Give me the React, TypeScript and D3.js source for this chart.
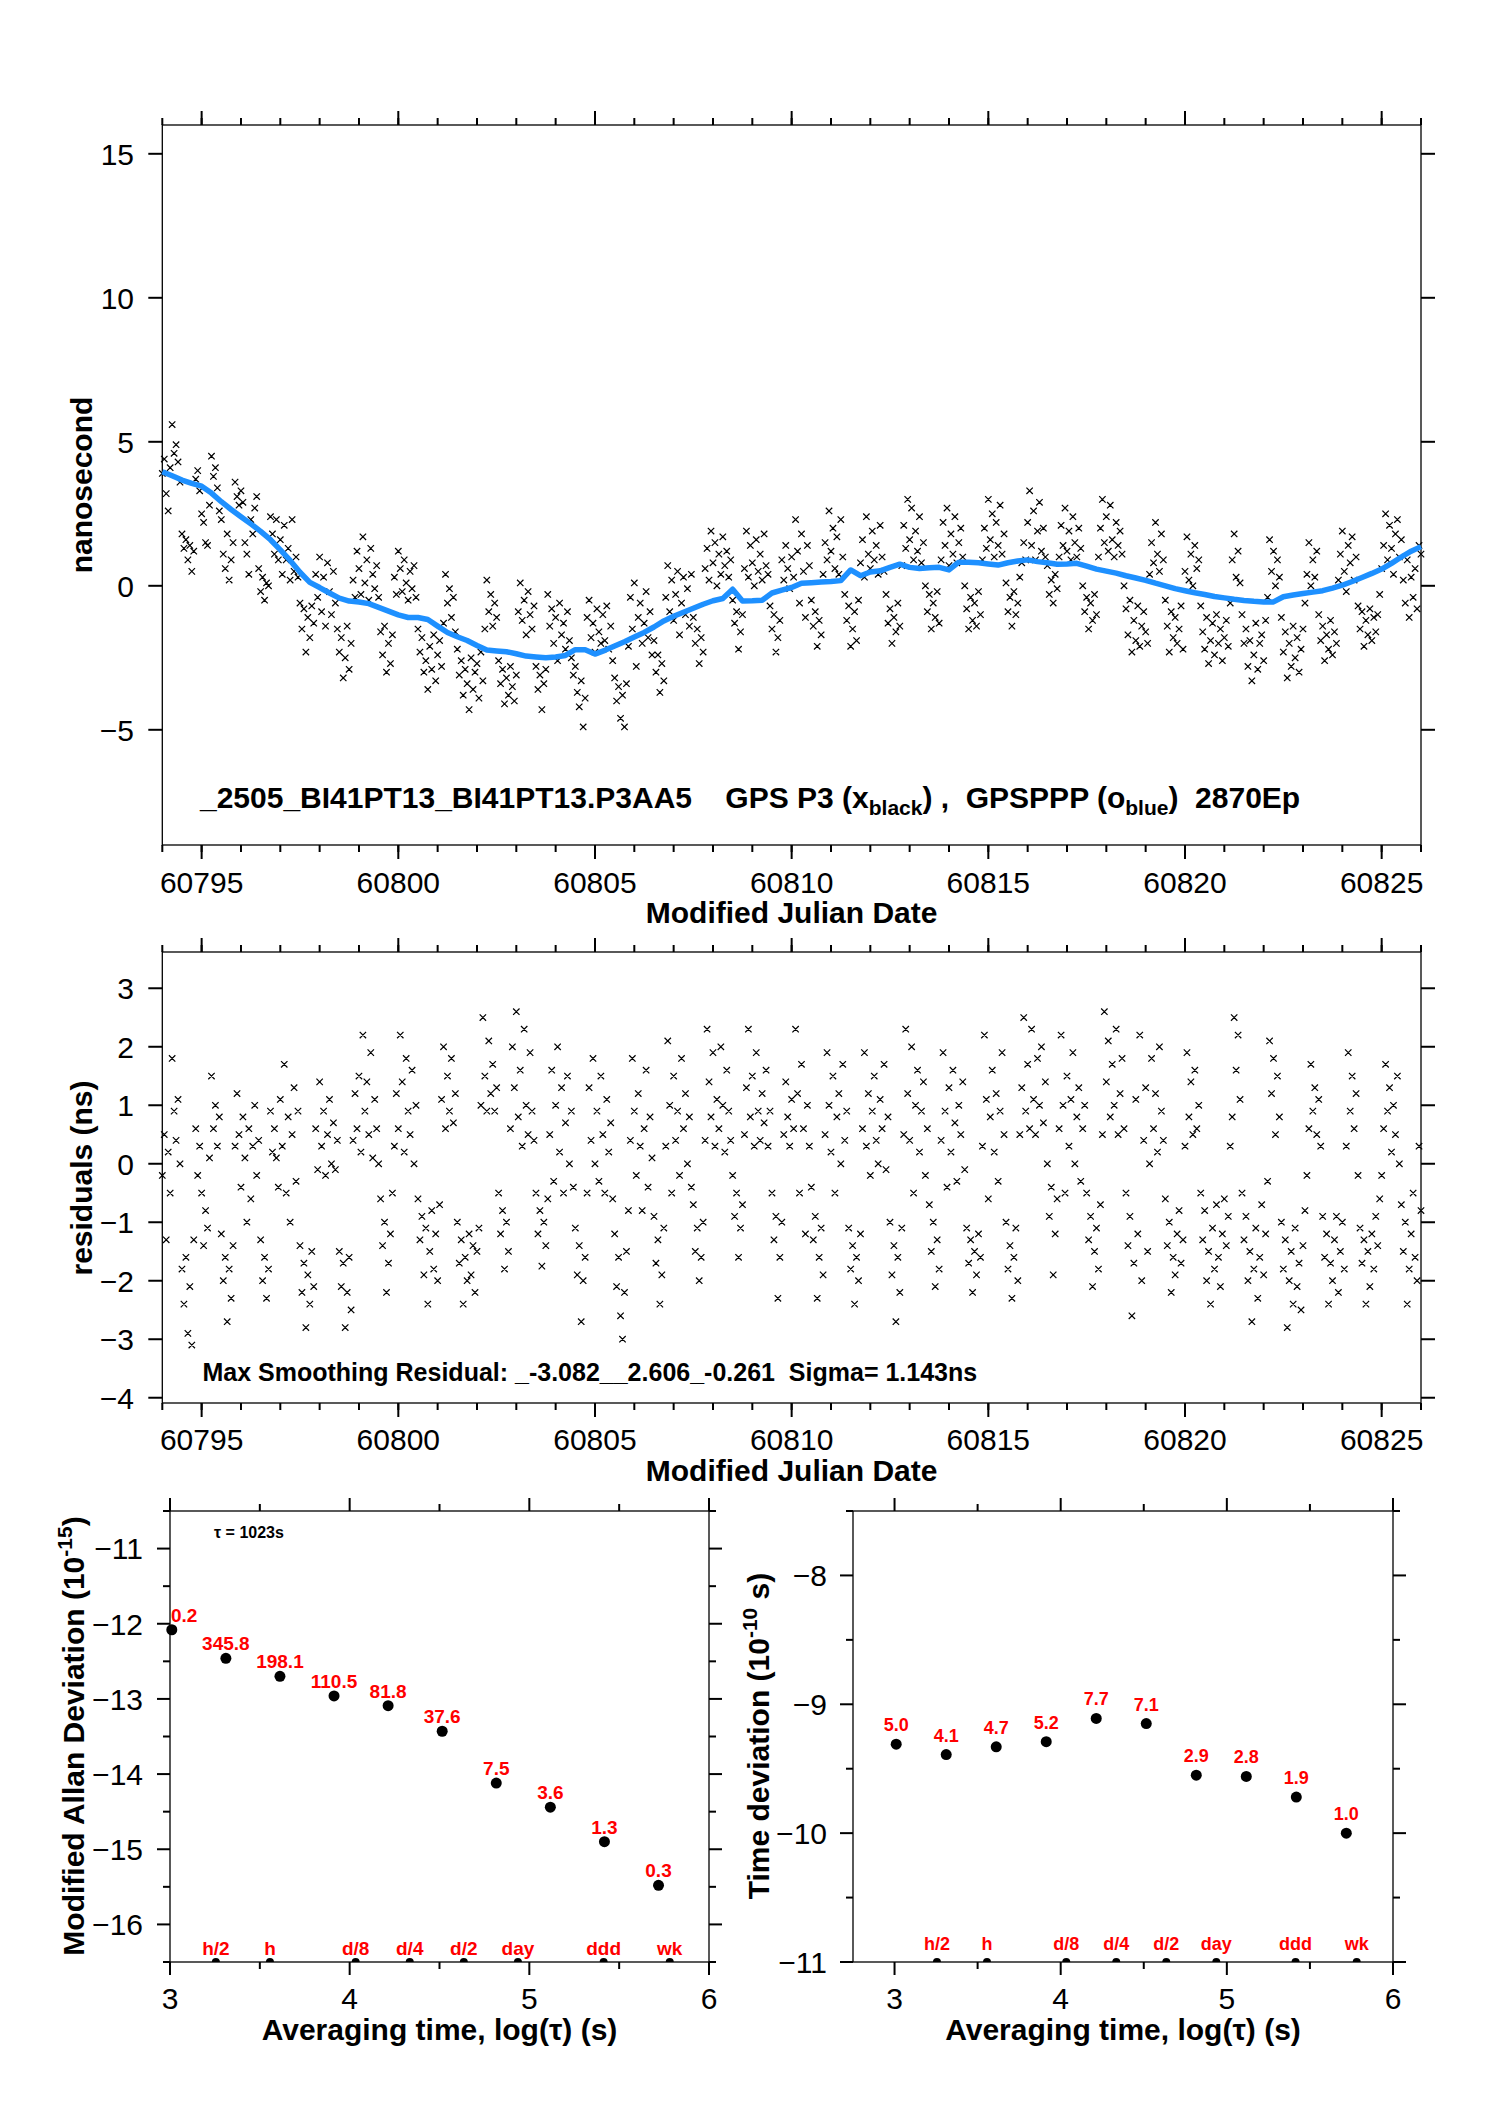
import * as d3 from "d3";

// ---- data ----
const MJD_START = 60794;
const STEP = 0.05; // days between epochs (read at this cadence)
const SMOOTH_STEP = 0.25;

// GPS P3 clock offsets (ns), one row per day
const p3Offsets = [
  3.9, 4.4, 3.2, 2.6, 4.1, 5.6, 4.6, 4.9, 4.3, 3.6, 1.8, 1.3, 1.6, 0.9, 1.4, 0.5, 1.2, 3.7, 4.0, 3.3,
  2.5, 2.2, 1.5, 1.4, 2.8, 4.5, 3.8, 4.1, 3.4, 2.6, 2.3, 1.1, 0.6, 1.8, 0.2, 0.9, 1.5, 3.6, 3.1, 2.8,
  3.3, 2.9, 1.5, 1.1, 0.4, 2.3, 1.8, 2.7, 3.1, 0.6, -0.2, 0.3, -0.5, 0.1, 0.0, 2.4, 1.8, 1.1, 2.3, 0.9,
  1.6, 0.4, 2.1, 0.9, 1.3, 0.2, 2.3, 0.5, 1.0, 0.3, -0.6, -1.5, -0.8, -2.3, -1.1, -1.8, -0.7, -1.3, 0.4, -0.4,
  1.0, -0.9, 0.3, -1.4, 0.8, -0.2, -1.0, 0.5, -0.6, -1.5, -2.3, -1.8, -3.2, -2.5, -1.4, -2.9, -2.0, 0.2, -0.4, 1.2,
  0.6, -0.3, 1.7, 0.1, 0.9, -0.5, 1.3, 0.4, -0.1, 0.7, -0.4, -1.6, -2.4, -1.4, -3.0, -2.0, -2.7, -1.7, 0.3, -0.3,
  1.2, 0.6, -0.2, 0.9, 0.1, -0.5, 0.5, -0.1, 0.7, -0.4, -1.5, -2.3, -1.8, -3.0, -2.6, -3.6, -2.1, -2.9, -1.7, -3.3,
  -2.4, -1.9, -2.8, -1.3, 0.4, -0.6, -0.1, -1.1, -0.4, -1.6, -2.2, -3.1, -2.6, -3.8, -2.9, -3.4, -4.3, -2.5, -3.6, -3.0,
  -2.7, -3.9, -2.3, -3.3, -1.5, 0.2, -0.9, -0.3, -1.4, -0.6, -1.1, -2.6, -3.4, -2.9, -4.1, -3.2, -3.8, -2.8, -3.5, -4.0,
  -3.1, -0.9, 0.1, -1.2, -0.5, -1.7, -0.2, -1.0, -1.5, -0.7, -2.8, -3.6, -3.1, -4.3, -3.4, -2.9, -0.3, -1.4, -0.8, -2.0,
  -1.1, -2.6, -0.6, -1.7, -1.3, -2.2, -0.9, -1.9, -2.5, -3.1, -2.8, -3.7, -4.2, -3.3, -4.9, -3.9, -1.1, -0.5, -1.8, -1.3,
  -2.3, -0.8, -1.6, -2.0, -1.0, -1.9, -0.7, -2.2, -1.4, -2.6, -3.2, -4.0, -3.5, -4.6, -3.8, -4.9, -3.4, -2.1, -0.4, -1.5,
  0.1, -2.8, -1.1, -0.6, -2.0, -1.3, -0.2, -1.8, -0.9, -2.4, -1.9, -3.0, -2.4, -3.7, -2.7, -3.3, -0.4, 0.7, -0.9, 0.2,
  -1.2, -0.3, 0.5, -1.7, -0.6, 0.3, -1.0, -0.1, -1.4, 0.4, -1.1, -2.0, -1.5, -2.7, -1.8, -2.3, 0.6, 1.3, 0.2, 1.9,
  0.8, 1.5, 0.0, 1.1, 0.4, 1.7, 0.7, 1.2, 0.3, 0.9, -0.5, -1.3, -0.9, -2.2, -1.6, -1.0, 0.6, 1.9, 0.3, 1.4,
  0.8, 0.0, 1.6, 0.5, 1.1, 0.2, 1.8, 0.7, 0.4, -0.7, -1.5, -1.0, -2.3, -1.8, -1.2, 0.9, 0.2, 1.4, 0.6, -0.1,
  1.0, 0.3, 2.3, 1.2, -0.6, 1.8, 0.5, -1.1, 1.4, 0.7, -0.5, -1.4, -0.9, -2.1, -1.2, -1.7, 0.4, 1.5, 0.9, 2.6,
  1.2, 2.0, 0.6, 1.7, 0.4, 2.3, 1.0, -0.3, -1.2, -0.7, -2.1, -1.5, -0.9, -1.9, -0.5, 0.8, 1.6, 0.3, 2.4, 1.1,
  0.6, 1.9, 0.9, 1.4, 0.4, 2.1, 1.0, 0.5, -0.3, -1.3, -0.8, -2.0, -1.1, -1.6, -0.6, -1.4, 0.7, 2.1, 1.3, 3.0,
  1.6, 2.7, 0.9, 1.9, 1.2, 2.4, 0.8, 1.5, 0.0, -0.9, -0.3, -1.5, -0.6, -1.1, -0.2, -1.3, 0.9, 2.2, 1.4, 2.7,
  0.7, 1.8, 1.1, 2.4, 0.8, 1.5, 2.0, 1.0, 0.0, -0.8, -1.5, -0.4, -1.2, -0.6, -1.4, -0.2, -1.0, 0.9, 2.0, 1.3,
  3.0, 1.6, 2.5, 1.0, 2.2, 1.4, 2.8, 1.1, 1.8, 0.1, -0.9, -0.4, -1.4, -0.2, -1.0, -0.6, 0.3, 0.8, 1.5, 0.9,
  2.2, 3.3, 1.4, 2.6, 0.9, 1.9, 2.9, 1.2, 2.0, 1.0, 0.7, -0.3, 0.2, -0.6, 0.4, -0.1, 1.0, 2.1, 1.4, 2.7,
  1.2, 1.9, 0.9, 2.4, 1.5, 1.0, 2.0, 1.3, 0.0, -0.9, -0.4, -1.5, -0.6, -1.2, -0.3, -1.0, 1.0, 2.0, 3.0, 1.5,
  2.4, 1.2, 2.8, 1.6, 1.0, 2.2, 1.4, 1.9, 1.1, 0.0, -0.8, -1.7, -0.5, -2.3, -1.2, -1.9, -0.7, -2.1, -1.4, -0.9,
  -1.6, -2.0, 0.4, 1.5, 0.8, 2.2, 1.1, 0.5, 1.8, 0.9, -0.5, -1.4, -2.3, -0.9, -1.8, -1.1, -2.0, -1.5, -0.7, -2.2,
  0.5, 1.7, 0.2, 1.1, 0.0, 1.4, 0.6, 0.9, -0.7, -1.6, -2.2, -1.1, -2.7, -1.9, -1.3, -2.4, -1.0, -2.0, -1.5, -2.6,
  -1.8, -1.2, -2.1, -0.6, 0.9, 1.8, 0.3, 1.2, 0.1, -1.0, -2.0, -1.5, -2.8, -1.9, -3.3, -2.4, -1.3, -2.9, -2.0, -1.7,
  -2.6, -1.2, -0.4, 1.6, 0.5, 1.2, 0.0, 0.9, 0.3, -1.1, -2.3, -1.6, -3.2, -2.0, -2.8, -1.4, -2.5, -1.8, -3.0, -2.2,
  -1.5, -0.6, 0.4, 1.5, 0.0, 0.9, 0.3, 1.2, -1.0, -1.9, -1.4, -2.6, -1.7, -2.2, -1.2, -2.4, -1.6, -2.0, 0.2, 1.1,
  1.9, 0.5, -0.2, 1.4, 0.8, 1.7, 0.2, 1.0, -0.7, -1.5, -0.9, -2.1, -1.2, -1.7, -0.8, -1.9, -1.1, -1.6, -1.0, -0.3,
  0.6, 1.4, 2.5, 0.9, 2.1, 1.3, 0.4, 1.8, 2.3, 1.0, 1.6, 0.2, -0.6, 0.9, -1.1, 0.3, -0.4, 0.6, -0.8, 1.4,
  1.1,
];

// GPSPPP smoothed curve (ns), every 0.25 day
const pppSmoothed = [
  3.96, 3.82, 3.67, 3.56, 3.46, 3.22, 2.92, 2.65, 2.4, 2.15, 1.89, 1.6, 1.25, 0.88, 0.47, 0.12,
  -0.06, -0.25, -0.43, -0.53, -0.56, -0.62, -0.75, -0.88, -1.01, -1.1, -1.1, -1.17, -1.4, -1.62, -1.77, -1.9,
  -2.07, -2.23, -2.26, -2.29, -2.36, -2.44, -2.47, -2.5, -2.47, -2.42, -2.22, -2.22, -2.37, -2.24, -2.09, -1.94,
  -1.78, -1.62, -1.43, -1.22, -1.06, -0.92, -0.78, -0.64, -0.52, -0.44, -0.12, -0.53, -0.52, -0.5, -0.25, -0.15,
  -0.06, 0.09, 0.11, 0.13, 0.15, 0.18, 0.55, 0.35, 0.48, 0.52, 0.64, 0.75, 0.64, 0.6, 0.63, 0.64,
  0.55, 0.82, 0.82, 0.8, 0.76, 0.72, 0.8, 0.86, 0.9, 0.84, 0.8, 0.75, 0.76, 0.78, 0.68, 0.58,
  0.51, 0.44, 0.35, 0.27, 0.19, 0.09, 0.0, -0.1, -0.17, -0.24, -0.3, -0.37, -0.42, -0.47, -0.51, -0.54,
  -0.56, -0.56, -0.38, -0.32, -0.27, -0.22, -0.17, -0.08, 0.02, 0.15, 0.29, 0.43, 0.58, 0.78, 1.0, 1.2,
  1.36,
];

// smoothing residuals (ns), one row per day
const residuals = [
  -0.2, 0.5, -1.3, 0.2, -0.5, 1.8, 0.9, 0.4, 1.1, 0.0, -1.8, -2.4, -1.6, -2.9, -2.1, -3.1, -1.3, 0.6, -0.2, 0.3,
  -0.5, -1.4, -0.8, -1.1, 0.1, 1.5, 0.6, 1.0, 0.3, 0.8, -1.2, -2.0, -1.6, -2.7, -1.8, -2.3, -1.4, 0.3, 1.2, 0.5,
  -0.4, 0.8, 0.1, -1.0, 0.6, -0.6, 0.3, 1.0, -0.2, 0.4, -1.3, -2.0, -1.6, -2.3, -1.8, 0.9, 0.2, 0.6, 0.1, -0.4,
  1.1, 0.3, 1.7, -0.5, 0.8, -1.0, 0.5, 1.3, -0.3, 0.9, -1.4, -2.2, -1.7, -2.8, -1.9, -2.4, -1.5, -2.1, 0.6, -0.1,
  1.4, 0.3, 0.9, -0.2, 0.5, 1.1, 0.0, 0.7, -0.1, 0.4, -1.5, -2.1, -1.7, -2.8, -2.2, -1.6, -2.5, 0.4, 1.2, 0.6,
  1.5, 0.2, 2.2, 0.9, 1.4, 0.5, 1.9, 0.1, 1.1, 0.6, 0.0, -0.6, -1.4, -1.0, -2.2, -1.7, -1.2, -0.5, 0.3, 1.2,
  0.6, 2.2, 1.4, 0.2, 1.8, 0.9, 0.5, 1.6, 0.0, 1.0, -0.6, -1.3, -0.9, -1.9, -1.1, -2.4, -1.5, -0.8, -1.8, -1.2,
  -2.0, -0.7, 1.1, 2.0, 0.6, 1.5, 0.9, 1.8, 0.7, 1.2, -1.0, -1.7, -1.3, -2.4, -1.6, -2.0, -1.2, -1.9, -1.4, -2.2,
  -1.5, -1.1, 1.0, 2.5, 1.5, 0.9, 2.1, 1.2, 1.7, 0.9, 1.3, -0.5, -1.2, -0.8, -1.8, -1.0, -1.5, 0.6, 2.0, 1.3,
  2.6, 0.8, 1.6, 0.3, 2.3, 1.0, 0.5, 1.9, 0.9, 0.4, -0.5, -1.2, -0.8, -1.75, -1.0, -1.4, -0.6, 0.5, 1.6, -0.3,
  1.0, 2.0, 0.2, 1.3, -0.5, 0.7, 1.5, 0.0, 0.9, -0.4, -1.1, -1.9, -1.4, -2.7, -2.0, -1.6, -0.5, 1.3, 0.4, 1.8,
  0.0, 0.9, -0.3, 1.5, 0.5, -0.5, 1.1, 0.2, 0.7, -0.6, -1.2, -2.1, -1.6, -2.6, -3.0, -2.2, -1.5, -0.8, 0.4, 1.8,
  0.9, -0.2, 1.2, 0.3, -0.8, 0.6, 1.6, -0.4, 0.8, 0.1, -0.9, -1.7, -1.3, -2.4, -1.9, -1.1, 0.3, 2.1, 1.0, -0.5,
  1.5, 0.4, 0.9, -0.2, 1.8, 0.6, 1.2, 0.0, 0.8, -0.4, -0.7, -1.5, -1.1, -2.0, -1.6, -1.0, 0.4, 2.3, 1.4, 0.8,
  1.9, 0.3, 1.1, 0.6, 2.0, 1.0, 0.2, 1.6, 0.9, 0.4, -0.2, -0.9, -0.5, -1.6, -1.1, -0.7, 0.5, 1.3, 2.3, 0.8,
  1.5, 0.3, 1.9, 0.9, 0.4, 1.2, 0.7, 1.6, 0.3, 0.9, -0.5, -1.3, -0.9, -2.3, -1.6, -1.0, 0.5, 1.4, 0.8, 0.3,
  1.1, 0.6, 2.3, 1.2, -0.5, 1.7, 0.6, -1.2, 1.0, 0.3, -0.4, -1.3, -0.9, -2.3, -1.6, -1.1, -1.9, 0.5, 1.9, 1.0,
  0.2, 1.5, -0.5, 0.8, 1.2, 0.0, 1.7, 0.4, 0.9, -1.1, -1.8, -1.4, -2.4, -1.6, -2.0, -1.2, 0.6, 1.9, 0.3, 1.2,
  -0.2, 0.9, 1.5, 0.4, 0.0, 1.1, 0.6, 1.7, -0.1, 0.8, -1.0, -1.9, -1.4, -2.7, -1.6, -2.2, -1.1, 0.5, 2.3, 1.2,
  0.4, 2.0, -0.5, 1.0, 1.6, 0.2, 0.9, 1.4, -0.2, 0.6, -0.7, -1.5, -1.0, -2.1, -1.3, -1.8, 0.4, 1.9, 0.9, -0.4,
  1.3, 0.2, 1.6, 0.7, -0.3, 1.0, 0.5, 1.4, -0.1, -1.1, -1.7, -1.3, -2.2, -1.5, -1.9, -1.2, -1.6, 0.3, 2.2, 1.1,
  -0.6, 0.8, 1.6, 0.2, 1.2, -0.3, 0.9, 1.9, 0.5, -1.0, -1.8, -1.4, -2.3, -1.6, -1.1, -2.0, 0.5, 1.3, 2.5, 0.9,
  1.7, 0.6, 2.3, 1.1, 0.5, 1.8, 1.0, 2.0, 0.7, 1.4, 0.0, -0.9, -0.4, -1.9, -1.2, -0.6, 0.6, 2.2, 1.0, -0.5,
  1.5, 0.3, 1.1, 1.9, 0.0, 0.8, 1.3, -0.3, 0.6, 1.0, -0.5, -1.3, -0.9, -2.1, -1.5, -1.1, -1.8, -0.7, 0.5, 2.6,
  1.4, 2.1, 0.8, 1.7, 1.0, 2.3, 0.5, 1.2, 1.8, 0.6, -0.5, -1.4, -0.9, -2.6, -1.7, 1.1, -1.2, 2.2, -2.0, 0.4,
  1.3, -1.5, 0.0, 1.8, 0.6, 1.2, 0.2, 2.0, 0.9, 0.4, -0.6, -1.4, -1.0, -2.2, -1.6, -1.9, -1.2, -0.8, -1.7, -1.3,
  0.3, 1.9, 0.8, 1.4, 0.5, 1.6, 0.6, 1.0, -0.5, -1.3, -0.8, -2.0, -1.5, -2.4, -1.1, -1.8, -0.7, -1.6, -2.1, -1.2,
  -0.6, -1.4, -0.9, 0.3, 0.8, 2.5, 1.6, 2.2, 1.1, -0.5, -1.3, -0.9, -2.0, -1.5, -2.7, -1.8, -1.1, -2.3, -1.6, -0.7,
  -1.9, -1.2, -0.3, 2.1, 1.2, 1.8, 0.5, 1.5, 0.8, -1.0, -1.8, -1.3, -2.8, -2.0, -1.5, -2.4, -1.1, -2.1, -1.7, -2.5,
  -1.4, -0.8, -0.2, 0.6, 1.7, 0.9, 1.3, 0.5, 1.1, 0.3, -0.9, -1.6, -1.2, -2.4, -1.7, -2.0, -1.3, -0.9, -2.2, -1.5,
  -1.0, -1.8, 0.3, 1.9, 0.9, 1.5, 0.6, 1.2, -0.2, -1.1, -1.7, -1.3, -2.4, -1.5, -2.1, -1.2, -1.8, -0.9, -1.4, -0.6,
  -0.2, 0.6, 1.7, 0.9, 1.3, 0.2, 1.0, 0.5, 1.5, 0.0, -0.7, -1.5, -1.0, -2.4, -1.8, -1.2, -0.5, -1.6, -2.0, 0.3,
  -0.8,
];

// stability: log10(tau) of each averaging time, values, N labels
const logTau = [3.01, 3.311, 3.612, 3.913, 4.214, 4.515, 4.816, 5.117, 5.418, 5.719];
const mdevLog = [-12.08, -12.46, -12.7, -12.96, -13.09, -13.43, -14.12, -14.44, -14.9, -15.48];
const mdevLabels = ["0.2", "345.8", "198.1", "110.5", "81.8", "37.6", "7.5", "3.6", "1.3", "0.3"];
const tdevLog = [-9.31, -9.39, -9.33, -9.29, -9.11, -9.15, -9.55, -9.56, -9.72, -10.0];
const tdevLabels = ["5.0", "4.1", "4.7", "5.2", "7.7", "7.1", "2.9", "2.8", "1.9", "1.0"];

const periodNames = ["h/2", "h", "d/8", "d/4", "d/2", "day", "ddd", "wk"];
const periodSeconds = [1800, 3600, 10800, 21600, 43200, 86400, 259200, 604800];

const mjdMajor = [60795, 60800, 60805, 60810, 60815, 60820, 60825];
const mjdMinor = d3.range(60794, 60827);

// ---- drawing ----
const FONT = "'Liberation Sans', Arial, Helvetica, sans-serif";
const RED = "#ff0000";
const BLUE = "#1e90ff";

const fmt = (v: number) => (v < 0 ? "\u2212" + Math.abs(v) : String(v));

type Scale = d3.ScaleLinear<number, number>;

function Frame(props: {
  x: Scale;
  y: Scale;
  xMajor: number[];
  xMinor: number[];
  yMajor: number[];
  yMinor: number[];
  xLabelY: number;
  yLabelX: number;
  major: number;
  minor: number;
}) {
  const { x, y, major, minor } = props;
  const [left, right] = x.range();
  const [bottom, top] = y.range();
  const tick = { stroke: "#000", strokeWidth: 2 };
  return (
    <g>
      <rect x={left} y={top} width={right - left} height={bottom - top} fill="none" stroke="#000" strokeWidth={1.3} />
      {props.xMinor.map((v, i) => (
        <g key={"xm" + i} {...tick}>
          <line x1={x(v)} x2={x(v)} y1={bottom} y2={bottom + minor} />
          <line x1={x(v)} x2={x(v)} y1={top} y2={top - minor} />
        </g>
      ))}
      {props.yMinor.map((v, i) => (
        <g key={"ym" + i} {...tick}>
          <line x1={left} x2={left - minor} y1={y(v)} y2={y(v)} />
          <line x1={right} x2={right + minor} y1={y(v)} y2={y(v)} />
        </g>
      ))}
      {props.xMajor.map((v, i) => (
        <g key={"xM" + i}>
          <line x1={x(v)} x2={x(v)} y1={bottom} y2={bottom + major} {...tick} />
          <line x1={x(v)} x2={x(v)} y1={top} y2={top - major} {...tick} />
          <text x={x(v)} y={props.xLabelY} textAnchor="middle" fontSize={30}>
            {fmt(v)}
          </text>
        </g>
      ))}
      {props.yMajor.map((v, i) => (
        <g key={"yM" + i}>
          <line x1={left} x2={left - major} y1={y(v)} y2={y(v)} {...tick} />
          <line x1={right} x2={right + major} y1={y(v)} y2={y(v)} {...tick} />
          <text x={props.yLabelX} y={y(v)} dy="0.36em" textAnchor="end" fontSize={30}>
            {fmt(v)}
          </text>
        </g>
      ))}
    </g>
  );
}

function crosses(values: number[], x: Scale, y: Scale) {
  const s = 3.2;
  return values
    .map((v, i) => {
      const px = x(MJD_START + i * STEP);
      const py = y(v);
      return `M${px - s},${py - s}L${px + s},${py + s}M${px - s},${py + s}L${px + s},${py - s}`;
    })
    .join("");
}

function StabilityPanel(props: {
  id: string;
  x: Scale;
  y: Scale;
  values: number[];
  labels: string[];
  yMajor: number[];
  yMinor: number[];
  yLabelX: number;
  labelSize: number;
  labelGap: number;
}) {
  const { x, y } = props;
  const [left, right] = x.range();
  const [bottom, top] = y.range();
  return (
    <g>
      <defs>
        <clipPath id={props.id}>
          <rect x={left} y={top} width={right - left} height={bottom - top} />
        </clipPath>
      </defs>
      <Frame
        x={x}
        y={y}
        xMajor={[3, 4, 5, 6]}
        xMinor={[3.5, 4.5, 5.5]}
        yMajor={props.yMajor}
        yMinor={props.yMinor}
        xLabelY={2009}
        yLabelX={props.yLabelX}
        major={13}
        minor={7}
      />
      {logTau.map((t, i) => {
        const cx = x(t);
        const cy = y(props.values[i]);
        const half = (props.labels[i].length * 0.5 * props.labelSize) / 2;
        const clamp = cx - half < left;
        return (
          <g key={i}>
            <circle cx={cx} cy={cy} r={5.5} fill="#000" />
            <text
              x={clamp ? left + 1 : cx}
              y={cy - props.labelGap}
              textAnchor={clamp ? "start" : "middle"}
              fill={RED}
              fontWeight="bold"
              fontSize={props.labelSize}
            >
              {props.labels[i]}
            </text>
          </g>
        );
      })}
      <g clipPath={`url(#${props.id})`}>
        {periodSeconds.map((s, i) => (
          <circle key={i} cx={x(Math.log10(s))} cy={bottom} r={4} fill="#000" />
        ))}
      </g>
      {periodSeconds.map((s, i) => (
        <text
          key={i}
          x={x(Math.log10(s))}
          y={bottom - props.labelGap + 1}
          textAnchor="middle"
          fill={RED}
          fontWeight="bold"
          fontSize={props.labelSize}
        >
          {periodNames[i]}
        </text>
      ))}
      <text x={(left + right) / 2} y={2040} textAnchor="middle" fontSize={30} fontWeight="bold">
        Averaging time, log(τ) (s)
      </text>
    </g>
  );
}

export default function App() {
  const xTime = d3.scaleLinear().domain([60794, 60826]).range([162.3, 1421]);
  const yTop = d3.scaleLinear().domain([-9, 16]).range([845, 125]);
  const yRes = d3.scaleLinear().domain([-4.09, 3.62]).range([1403, 952]);
  const xMdev = d3.scaleLinear().domain([3, 6]).range([170, 709]);
  const yMdev = d3.scaleLinear().domain([-16.5, -10.5]).range([1962, 1511]);
  const xTdev = d3.scaleLinear().domain([2.75, 6]).range([853, 1393]);
  const yTdev = d3.scaleLinear().domain([-11, -7.5]).range([1962, 1511]);

  const smoothLine = d3
    .line<number>()
    .x((_, i) => xTime(MJD_START + i * SMOOTH_STEP))
    .y((d) => yTop(d));

  return (
    <svg
      width={1488}
      height={2105}
      style={{ position: "absolute", left: 0, top: 0, background: "#fff" }}
      fontFamily={FONT}
    >
      <rect width={1488} height={2105} fill="#fff" />

      {/* clock offsets */}
      <Frame
        x={xTime}
        y={yTop}
        xMajor={mjdMajor}
        xMinor={mjdMinor}
        yMajor={[-5, 0, 5, 10, 15]}
        yMinor={[]}
        xLabelY={893}
        yLabelX={134}
        major={14}
        minor={7}
      />
      <path d={crosses(p3Offsets, xTime, yTop)} stroke="#000" strokeWidth={1.2} fill="none" />
      <path d={smoothLine(pppSmoothed) ?? ""} stroke={BLUE} strokeWidth={5.5} fill="none" strokeLinejoin="round" />
      <text x={200} y={808} fontSize={30} fontWeight="bold" style={{ whiteSpace: "pre" }}>
        {"_2505_BI41PT13_BI41PT13.P3AA5    GPS P3 (x"}
        <tspan fontSize={21} dy={7}>black</tspan>
        <tspan dy={-7}>{") ,  GPSPPP (o"}</tspan>
        <tspan fontSize={21} dy={7}>blue</tspan>
        <tspan dy={-7}>{")  2870Ep"}</tspan>
      </text>
      <text x={791.6} y={923} textAnchor="middle" fontSize={30} fontWeight="bold">
        Modified Julian Date
      </text>
      <text transform="translate(92,485) rotate(-90)" textAnchor="middle" fontSize={30} fontWeight="bold">
        nanosecond
      </text>

      {/* residuals */}
      <Frame
        x={xTime}
        y={yRes}
        xMajor={mjdMajor}
        xMinor={mjdMinor}
        yMajor={[-4, -3, -2, -1, 0, 1, 2, 3]}
        yMinor={[]}
        xLabelY={1450}
        yLabelX={134}
        major={14}
        minor={7}
      />
      <path d={crosses(residuals, xTime, yRes)} stroke="#000" strokeWidth={1.2} fill="none" />
      <text x={202.5} y={1381} fontSize={25} fontWeight="bold" style={{ whiteSpace: "pre" }}>
        {"Max Smoothing Residual: _-3.082__2.606_-0.261  Sigma= 1.143ns"}
      </text>
      <text x={791.6} y={1481} textAnchor="middle" fontSize={30} fontWeight="bold">
        Modified Julian Date
      </text>
      <text transform="translate(92,1178) rotate(-90)" textAnchor="middle" fontSize={30} fontWeight="bold">
        residuals (ns)
      </text>

      {/* modified Allan deviation */}
      <StabilityPanel
        id="clipMdev"
        x={xMdev}
        y={yMdev}
        values={mdevLog}
        labels={mdevLabels}
        yMajor={[-16, -15, -14, -13, -12, -11]}
        yMinor={[-16.5, -15.5, -14.5, -13.5, -12.5, -11.5, -10.5]}
        yLabelX={143}
        labelSize={19}
        labelGap={8}
      />
      <text x={214} y={1538} fontSize={16} fontWeight="bold">
        τ = 1023s
      </text>
      <text transform="translate(84,1736) rotate(-90)" textAnchor="middle" fontSize={30} fontWeight="bold">
        Modified Allan Deviation (10
        <tspan fontSize={21} dy={-12}>-15</tspan>
        <tspan dy={12}>)</tspan>
      </text>

      {/* time deviation */}
      <StabilityPanel
        id="clipTdev"
        x={xTdev}
        y={yTdev}
        values={tdevLog}
        labels={tdevLabels}
        yMajor={[-11, -10, -9, -8]}
        yMinor={[-10.5, -9.5, -8.5, -7.5]}
        yLabelX={827}
        labelSize={18}
        labelGap={13}
      />
      <text transform="translate(769,1736) rotate(-90)" textAnchor="middle" fontSize={30} fontWeight="bold">
        Time deviation (10
        <tspan fontSize={21} dy={-12}>-10</tspan>
        <tspan dy={12}>{" s)"}</tspan>
      </text>
    </svg>
  );
}
